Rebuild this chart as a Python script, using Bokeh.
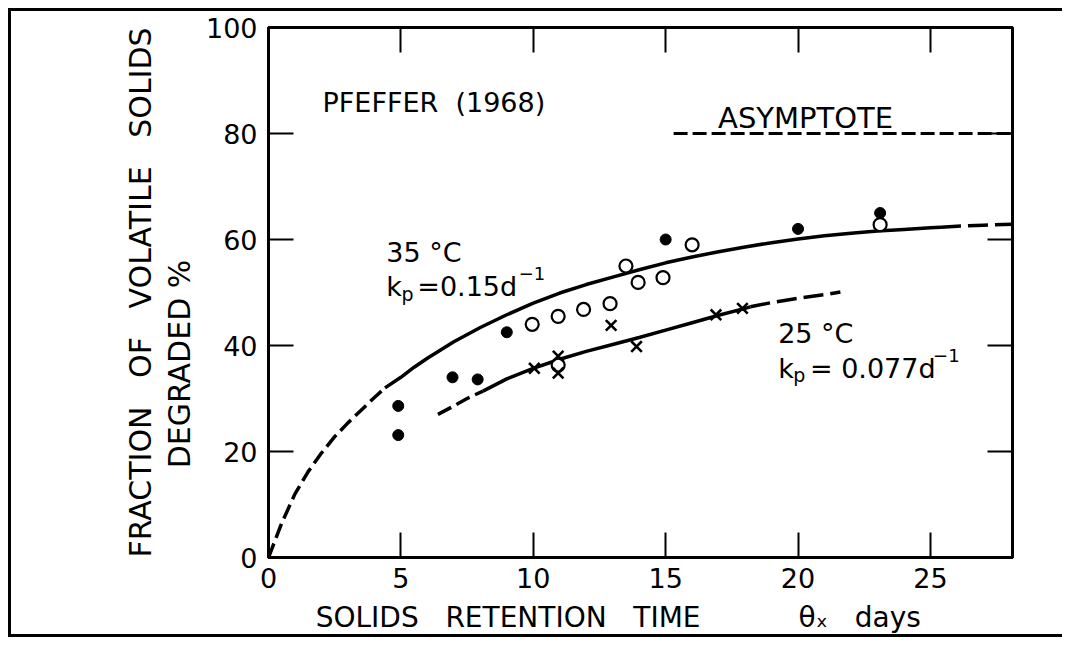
from bokeh.plotting import figure
from bokeh.models import Range1d, LinearAxis, Label, FixedTicker
from bokeh.embed import file_html
from bokeh.resources import INLINE

# ---- data ----
filled_x = [4.9, 4.9, 6.95, 7.9, 9.0, 15.0, 20.0, 23.1]
filled_y = [28.6, 23.1, 34.0, 33.6, 42.5, 60.0, 62.0, 65.0]

open_x = [9.96, 10.94, 11.9, 12.9, 13.5, 13.96, 14.9, 16.0, 23.1, 10.94]
open_y = [44.0, 45.5, 46.8, 47.9, 55.0, 51.9, 52.8, 59.0, 62.8, 36.3]

cross_x = [10.04, 10.94, 10.94, 12.94, 13.9, 16.9, 17.9]
cross_y = [35.7, 38.0, 34.8, 43.8, 39.8, 45.8, 47.0]

# 35 C curve (dashed / solid / dashed parts)
c35_lo_x = [0.0, 0.5, 1.0, 1.5, 2.0, 2.5, 3.0, 3.5, 4.0, 4.4]
c35_lo_y = [0.0, 6.5, 12.0, 16.2, 19.7, 22.8, 25.4, 27.8, 30.2, 32.0]
c35_mid_x = [4.4, 5, 5.5, 6, 7, 8, 9, 10, 11, 12, 13, 14, 15, 16, 17, 18, 19, 20, 21, 22, 23, 24, 25, 25.4]
c35_mid_y = [32.0, 34.0, 35.9, 37.6, 40.7, 43.4, 45.8, 48.0, 49.9, 51.5, 52.9, 54.3, 55.6, 56.7, 57.7, 58.6, 59.4, 60.1, 60.7, 61.2, 61.6, 61.9, 62.2, 62.3]
c35_hi_x = [25.4, 26.0, 27.0, 28.1]
c35_hi_y = [62.3, 62.5, 62.7, 62.9]

# 25 C curve
c25_lo_x = [6.4, 7.0, 7.5, 8.1]
c25_lo_y = [27.0, 28.6, 30.0, 31.4]
c25_mid_x = [8.1, 9, 10, 11, 12, 13, 14, 15, 16, 17, 18, 18.2]
c25_mid_y = [31.4, 33.7, 35.7, 37.4, 38.9, 40.2, 41.5, 42.9, 44.3, 45.7, 47.0, 47.3]
c25_hi_x = [18.2, 19, 20, 21, 21.6]
c25_hi_y = [47.3, 48.1, 48.9, 49.6, 50.1]

asym_x = [15.3, 28.1]
asym_y = [80, 80]

x_ticks = [0, 5, 10, 15, 20, 25]
y_ticks = [0, 20, 40, 60, 80, 100]

FONT = "DejaVu Sans"
NB = "\u00a0"

p = figure(width=1054, height=629, output_backend="svg", toolbar_location=None,
           x_range=Range1d(0, 28.1), y_range=Range1d(0, 100),
           min_border_left=257, min_border_top=16, min_border_right=53, min_border_bottom=83,
           styles={"border-top": "3px solid black", "border-left": "3px solid black",
                   "border-bottom": "3px solid black", "margin-left": "8px", "margin-top": "8px"})
p.grid.visible = False
p.outline_line_color = "black"
p.outline_line_width = 3
p.background_fill_color = "white"
p.border_fill_color = "white"

for ax in (p.xaxis[0], p.yaxis[0]):
    ax.axis_line_width = 3
    ax.major_tick_in = 25
    ax.major_tick_out = 0
    ax.major_tick_line_width = 2
    ax.minor_tick_line_color = None
    ax.major_label_text_font = FONT
    ax.major_label_text_font_size = "27px"
    ax.major_label_text_color = "black"
    ax.axis_label_text_font = FONT
    ax.axis_label_text_font_style = "normal"
    ax.axis_label_text_color = "black"
p.xaxis[0].ticker = FixedTicker(ticks=x_ticks)
p.yaxis[0].ticker = FixedTicker(ticks=y_ticks)
p.xaxis[0].major_label_standoff = 10
p.yaxis[0].major_label_standoff = 11

p.yaxis[0].axis_label = ("FRACTION" + NB * 3 + "OF" + NB * 3 + "VOLATILE" + NB * 3 + "SOLIDS\n"
                         + "DEGRADED" + NB + "%" + NB * 15)
p.yaxis[0].axis_label_text_font_size = "30px"
p.yaxis[0].axis_label_standoff = 6
p.yaxis[0].axis_label_text_line_height = 1.1

p.xaxis[0].axis_label = ("SOLIDS" + NB * 3 + "RETENTION" + NB * 3 + "TIME" + NB * 11
                         + "\u03b8\u2093" + NB * 3 + "days" + NB * 5)
p.xaxis[0].axis_label_text_font_size = "28px"
p.xaxis[0].axis_label_standoff = 10

for side, tks in (("right", y_ticks), ("above", x_ticks)):
    ax = LinearAxis(ticker=FixedTicker(ticks=tks), axis_line_width=3,
                    major_tick_in=25, major_tick_out=0, major_tick_line_width=2,
                    minor_tick_line_color=None, major_label_text_color=None,
                    major_label_standoff=0)
    p.add_layout(ax, side)

# curves
p.line(c35_lo_x, c35_lo_y, line_width=3.5, color="black", line_dash="15 6")
p.line(c35_mid_x, c35_mid_y, line_width=3.5, color="black")
p.line(c35_hi_x, c35_hi_y, line_width=3.5, color="black", line_dash="20 7")
p.line(c25_lo_x, c25_lo_y, line_width=3.5, color="black", line_dash="15 6")
p.line(c25_mid_x, c25_mid_y, line_width=3.5, color="black")
p.line(c25_hi_x, c25_hi_y, line_width=3.5, color="black", line_dash="20 7")
p.line(asym_x, asym_y, line_width=3, color="black", line_dash="14 5")

# points
p.scatter(filled_x, filled_y, marker="circle", size=11, fill_color="black", line_color="black")
p.scatter(open_x, open_y, marker="circle", size=13, fill_color="white", line_color="black", line_width=2.2)
p.scatter(cross_x, cross_y, marker="x", size=15, line_color="black", line_width=2.6)

def lab(x, y, t, size="26px"):
    p.add_layout(Label(x=x, y=y, text=t, text_font=FONT, text_font_size=size,
                       text_align="left", text_baseline="alphabetic", text_color="black"))

lab(2.04, 85.9, "PFEFFER" + NB * 2 + "(1968)", size="27px")
lab(16.98, 83.0, "ASYMPTOTE", size="29px")

lab(4.45, 57.6, "35 °C", size="27px")
lab(4.45, 51.1, "k", size="27px")
lab(5.02, 49.8, "p", size="19px")
lab(5.62, 51.1, "=0.15d", size="27px")
lab(9.45, 53.6, "\u22121", size="18px")

lab(19.25, 42.3, "25 °C", size="27px")
lab(19.25, 35.7, "k", size="27px")
lab(19.82, 34.4, "p", size="19px")
lab(20.45, 35.7, "= 0.077d", size="27px")
lab(25.1, 38.2, "\u22121", size="18px")

open("out.html", "w").write(file_html(p, INLINE))
